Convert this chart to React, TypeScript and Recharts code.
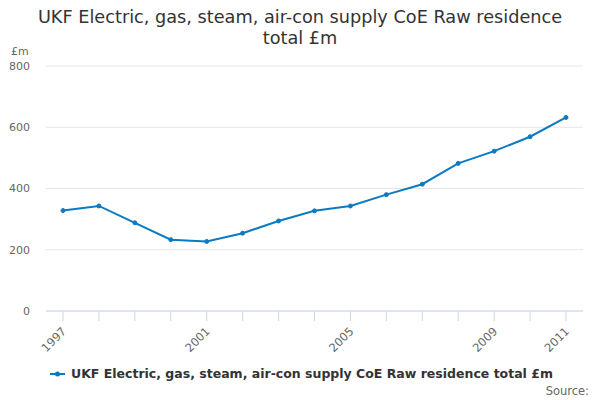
import React from 'react';
import { CartesianGrid, Line, LineChart, XAxis, YAxis } from 'recharts';

const years = [1997, 1998, 1999, 2000, 2001, 2002, 2003, 2004, 2005, 2006, 2007, 2008, 2009, 2010, 2011];
const values = [328, 343, 288, 233, 227, 254, 294, 327, 343, 380, 414, 482, 522, 569, 632];
const labelledYears = [1997, 2001, 2005, 2009, 2011];
const yTicks = [0, 200, 400, 600, 800];

const seriesName = 'UKF Electric, gas, steam, air-con supply CoE Raw residence total £m';
const lineColor = '#0a7bc2';
const font = '"DejaVu Sans", sans-serif';

const data = years.map((year, i) => ({ year, value: values[i] }));

function YearTick(props: any) {
  const { x, y, payload } = props;
  if (!labelledYears.includes(payload.value)) return null;
  const ax = x + 4;
  const ay = y + 9;
  return (
    <text
      x={ax}
      y={ay}
      textAnchor="end"
      fill="#666666"
      fontSize={11.5}
      fontFamily={font}
      transform={`rotate(-45 ${ax} ${ay})`}
    >
      {payload.value}
    </text>
  );
}

export default function App() {
  return (
    <div style={{ position: 'absolute', left: 0, top: 0, width: 600, height: 400, background: '#fff', fontFamily: font }}>
      <div
        style={{
          position: 'absolute',
          left: 0,
          top: 7,
          width: 600,
          textAlign: 'center',
          fontSize: 17.7,
          lineHeight: '21px',
          color: '#333333',
        }}
      >
        UKF Electric, gas, steam, air-con supply CoE Raw residence
        <br />
        total £m
      </div>
      <div style={{ position: 'absolute', left: 11, top: 45, fontSize: 11, color: '#666666' }}>£m</div>
      <LineChart width={600} height={400} data={data} margin={{ top: 66, right: 17, left: 0, bottom: 59 }}>
        <CartesianGrid stroke="#e6e6e6" vertical={false} />
        <XAxis
          dataKey="year"
          type="number"
          domain={[1997, 2011]}
          ticks={years}
          interval={0}
          height={30}
          padding={{ left: 17, right: 17 }}
          tick={<YearTick />}
          tickSize={10}
          tickLine={{ stroke: '#ccd6eb' }}
          axisLine={{ stroke: '#ccd6eb' }}
        />
        <YAxis
          domain={[0, 800]}
          ticks={yTicks}
          width={46}
          tickLine={false}
          axisLine={false}
          tickSize={6}
          tickMargin={10}
          tick={{ fill: '#666666', fontSize: 11, fontFamily: font }}
        />
        <Line
          type="linear"
          dataKey="value"
          name={seriesName}
          stroke={lineColor}
          strokeWidth={2}
          dot={{ r: 2, fill: lineColor, stroke: lineColor, strokeWidth: 1 }}
          activeDot={false}
          isAnimationActive={false}
        />
      </LineChart>
      <div style={{ position: 'absolute', left: 50, top: 366, display: 'flex', alignItems: 'center' }}>
        <svg width={16} height={10}>
          <line x1={0} y1={5} x2={15} y2={5} stroke={lineColor} strokeWidth={2} />
          <circle cx={7.5} cy={5} r={2.5} fill={lineColor} />
        </svg>
        <span style={{ marginLeft: 5, fontSize: 12.5, fontWeight: 'bold', color: '#333333' }}>{seriesName}</span>
      </div>
      <div style={{ position: 'absolute', right: 11, top: 384, fontSize: 11.5, color: '#666666' }}>Source:</div>
    </div>
  );
}
